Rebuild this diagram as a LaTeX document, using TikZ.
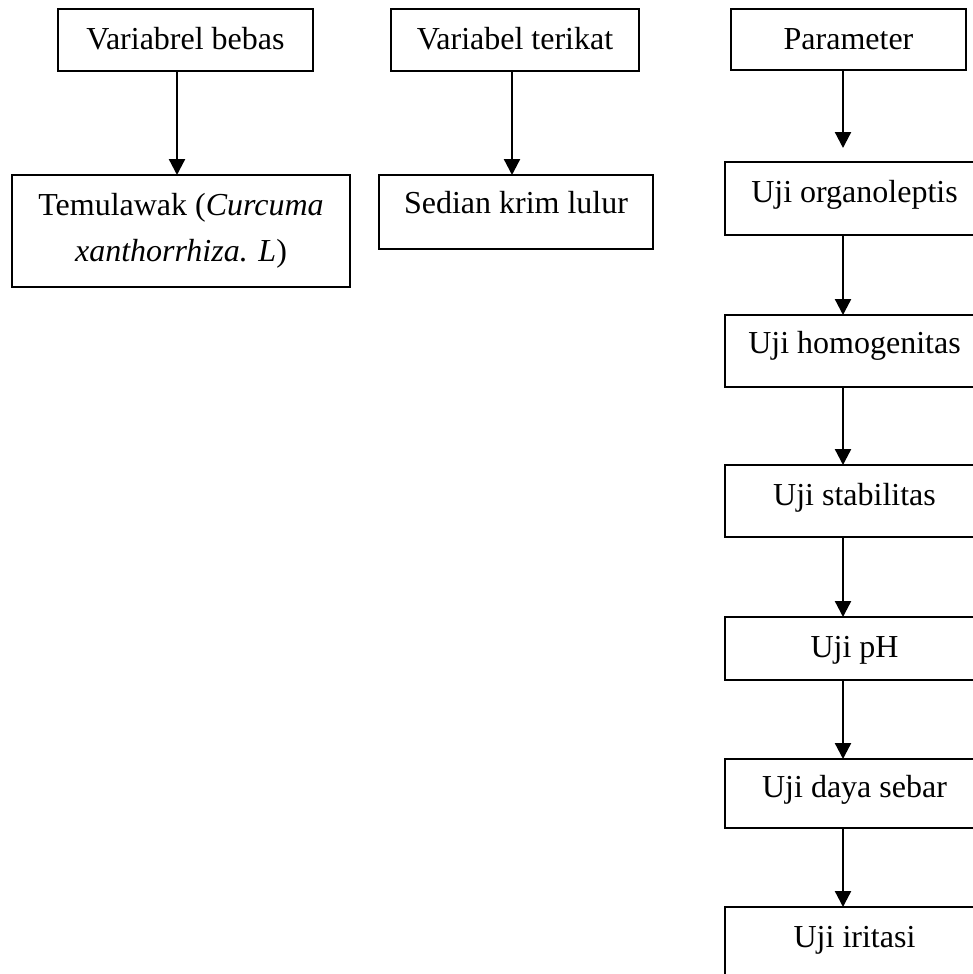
\documentclass[tikz,border=0pt]{standalone}
\usepackage{fontspec}
\setmainfont{Liberation Serif}
\usetikzlibrary{arrows.meta}
\begin{document}
\begin{tikzpicture}[x=1pt,y=-1pt,
  box/.style={draw, line width=1.4pt, anchor=north west, inner sep=0pt, outer sep=0pt,
    font=\fontsize{32}{46}\selectfont},
  arr/.style={line width=2.3pt, -{Triangle[length=16pt,width=16pt]}}]
\clip (0,0) rectangle (973,974);
\fill[white] (0,0) rectangle (973,974);
% columns
\coordinate (cA) at (177,0);
\coordinate (cB) at (512,0);
\coordinate (cC) at (843,0);
% left column
\node[box, minimum width=255pt, text height=41pt, text depth=21pt] (vb) at (58,9) {Variabrel bebas};
\node[box, minimum width=338pt, minimum height=112pt, align=center] (tem) at (12,175)
  {Temulawak (\textit{Curcuma}\\\textit{xanthorrhiza. L})};
% middle column
\node[box, minimum width=248pt, text height=41pt, text depth=21pt] (vt) at (391,9) {Variabel terikat};
\node[box, minimum width=274pt, text height=38pt, text depth=36pt] (sed) at (379,175) {Sedian krim lulur};
% right column
\node[box, minimum width=235pt, text height=41pt, text depth=20pt] (par) at (731,9) {Parameter};
\node[box, minimum width=259pt, text height=40pt, text depth=33pt] (org) at (725,162) {Uji organoleptis};
\node[box, minimum width=259pt, text height=38pt, text depth=34pt] (hom) at (725,315) {Uji homogenitas};
\node[box, minimum width=259pt, text height=40pt, text depth=32pt] (stab) at (725,465) {Uji stabilitas};
\node[box, minimum width=259pt, text height=40pt, text depth=23pt] (ph) at (725,617) {Uji pH};
\node[box, minimum width=259pt, text height=38pt, text depth=31pt] (dsb) at (725,759) {Uji daya sebar};
\node[box, minimum width=259pt, text height=40pt, text depth=40pt] (iri) at (725,907) {Uji iritasi};
% connectors
\draw[arr] (vb.south -| cA) -- (tem.north -| cA);
\draw[arr] (vt.south -| cB) -- (sed.north -| cB);
\draw[arr, shorten >=14pt] (par.south -| cC) -- (org.north -| cC);
\draw[arr] (org.south -| cC) -- (hom.north -| cC);
\draw[arr] (hom.south -| cC) -- (stab.north -| cC);
\draw[arr] (stab.south -| cC) -- (ph.north -| cC);
\draw[arr] (ph.south -| cC) -- (dsb.north -| cC);
\draw[arr] (dsb.south -| cC) -- (iri.north -| cC);
\end{tikzpicture}
\end{document}
